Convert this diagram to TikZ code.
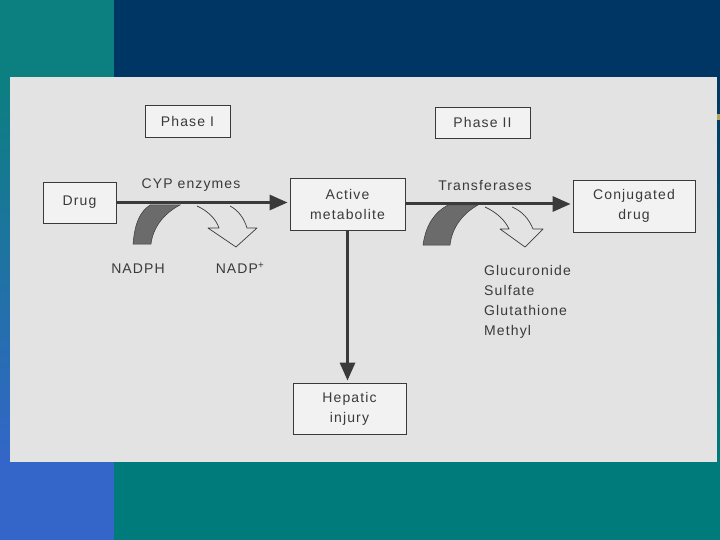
\documentclass[tikz,border=0pt]{standalone}
\usepackage{fontspec}
\setmainfont{Liberation Sans}[LetterSpace=8]
\usetikzlibrary{arrows.meta}
\definecolor{navy}{HTML}{003663}
\definecolor{tealtop}{HTML}{0C7F80}
\definecolor{bluebot}{HTML}{3366C8}
\definecolor{tealbot}{HTML}{007B7B}
\definecolor{panel}{HTML}{E3E3E3}
\definecolor{boxfill}{HTML}{F2F2F2}
\definecolor{ink}{HTML}{3A3A3A}
\definecolor{olivebit}{HTML}{B0A860}
\tikzset{
  box/.style={draw=ink, line width=0.8pt, fill=boxfill, align=center, text=ink,
    font=\fontsize{14}{20}\selectfont, inner sep=0pt},
  lab/.style={text=ink, font=\fontsize{14}{20}\selectfont, inner sep=0pt},
  mainarrow/.style={draw=ink, line width=3pt, -{Triangle[length=18pt,width=15pt]}, shorten >=2pt},
  band/.style={fill=ink!75, draw=ink, line width=0.5pt},
  hollow/.style={fill=panel, draw=ink, line width=0.7pt, line join=round}
}
\begin{document}
\begin{tikzpicture}[x=1pt,y=-1pt]
\useasboundingbox (0,0) rectangle (720,540);
% slide background
\fill[navy] (114,0) rectangle (720,77);
\shade[top color=navy, bottom color=tealbot] (114,77) rectangle (720,462);
\fill[tealbot] (114,462) rectangle (720,540);
\fill[tealtop] (0,0) rectangle (114,77);
\shade[top color=tealtop, bottom color=bluebot] (0,77) rectangle (114,462);
\fill[bluebot] (0,462) rectangle (114,540);
\fill[olivebit] (716,114) rectangle (720,120);
% panel
\fill[panel] (10,77) rectangle (717,462);

% boxes
\node[box, minimum width=85pt, minimum height=32pt] (p1) at (187.5,121) {Phase I};
\node[box, minimum width=95pt, minimum height=31pt] (p2) at (482.5,122.5) {Phase II};
\node[box, minimum width=73pt, minimum height=41pt] (drug) at (79.5,202.5) {Drug};
\node[box, minimum width=115pt, minimum height=52pt] (act) at (347.5,204) {Active\\metabolite};
\node[box, minimum width=122pt, minimum height=52pt] (conj) at (634,206) {Conjugated\\drug};
\node[box, minimum width=113pt, minimum height=51pt] (hep) at (349.5,408.5) {Hepatic\\injury};

% cofactor bands
\path[band] (133,244) .. controls (135,222) and (140,212) .. (150,205)
  -- (180,205) .. controls (163,214) and (153,228) .. (151,244) -- cycle;
\path[band] (423,245) .. controls (426,224) and (435,212) .. (448,205)
  -- (478,205) .. controls (462,214) and (452,228) .. (450,245) -- cycle;

% released products (hollow arrows)
\path[hollow] (197,206) .. controls (208,211) and (216,219) .. (219,228)
  -- (208,228) -- (236,247) -- (257,228) -- (247,228)
  .. controls (244,218) and (238,210) .. (230,206);
\path[hollow] (485,207) .. controls (496,212) and (505,220) .. (509,229)
  -- (500,229) -- (525,247) -- (543,229) -- (533,229)
  .. controls (529,219) and (522,211) .. (512,207);

% main arrows
\draw[mainarrow] (drug.east) -- (drug.east -| act.west);
\draw[mainarrow] (act.east) -- (act.east -| conj.west);
\draw[mainarrow] (act.south) -- (act.south |- hep.north);

% labels
\node[lab] (cyp) at (191,185) {CYP enzymes};
\node[lab] (trans) at (485,186) {Transferases};
\node[lab] (nadph) at (138,269) {NADPH};
\node[lab] (nadp) at (240,268) {NADP\textsuperscript{+}};
\node[lab, anchor=base west] (g1) at (484,275) {Glucuronide};
\node[lab, anchor=base west] (g2) at (484,295) {Sulfate};
\node[lab, anchor=base west] (g3) at (484,315) {Glutathione};
\node[lab, anchor=base west] (g4) at (484,335) {Methyl};
\end{tikzpicture}
\end{document}
